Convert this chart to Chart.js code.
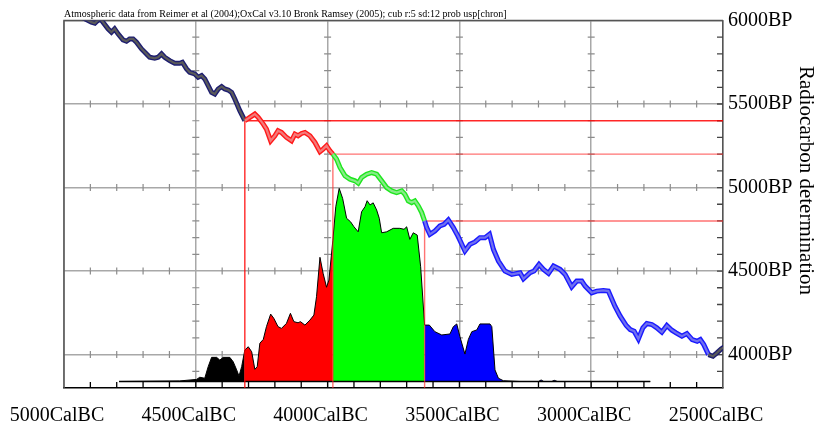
<!DOCTYPE html>
<html><head><meta charset="utf-8">
<script src="https://cdn.jsdelivr.net/npm/chart.js@4/dist/chart.umd.min.js"></script>
<style>html,body{margin:0;padding:0;background:#fff;overflow:hidden}</style>
</head><body>
<canvas id="c" width="819" height="427"></canvas>
<script>
// ---------- DATA ----------
const chartTitle = "Atmospheric data from Reimer et al (2004);OxCal v3.10 Bronk Ramsey (2005); cub r:5 sd:12 prob usp[chron]";
const yAxisTitle = "Radiocarbon determination";
const xTickSuffix = "CalBC";
const yTickSuffix = "BP";

// calibration curve (Cal BC, BP)
const curveCalBC = [4935,4928,4896,4883,4875,4862,4852,4833,4820,4808,4795,4776,4763,4751,4738,4725,4706,4687,4675,4656,4643,4630,4618,4599,4580,4561,4551,4535,4523,4504,4491,4478,4466,4453,4440,4428,4415,4402,4390,4377,4364,4352,4333,4314,
4295,4276,4263,4244,4232,4216,4200,4188,4175,4156,4137,4124,4112,4099,4086,4067,4048,4029,4017,4004,3991,3980,
3966,3953,3934,3915,3896,3884,3871,3852,3833,3814,3795,3776,3757,3738,3719,3707,3694,3681,3669,3656,3643,3632,
3624,3612,3593,3574,3558,3542,3523,3504,3479,3460,3441,3422,3403,3386,3371,3352,3327,3301,3282,3270,3257,3232,3217,3198,3181,3162,3143,3118,3099,3074,3055,3036,3023,2998,2979,2954,2935,2910,2890,2867,2852,2837,2821,2804,2789,2770,2751,2732,2713,2694,2678,2656,2637,2617,2598,2586,2573,2555,2538,2523,2507,2491];
const curveBP = [6030,6016,5990,5984,5996,6010,5990,5950,5930,5950,5920,5884,5876,5890,5890,5870,5830,5800,5780,5774,5780,5800,5780,5760,5744,5744,5750,5710,5690,5680,5660,5670,5650,5610,5570,5560,5590,5604,5590,5584,5570,5530,5460,5400,
5420,5440,5420,5380,5350,5280,5310,5340,5330,5300,5280,5320,5310,5324,5330,5310,5270,5215,5230,5250,5220,5200,
5170,5120,5070,5050,5040,5026,5060,5080,5090,5080,5040,5000,4980,4970,4980,4960,4920,4910,4920,4890,4850,4800,
4760,4720,4740,4770,4780,4806,4760,4705,4620,4660,4674,4700,4700,4720,4630,4560,4500,4480,4486,4490,4454,4490,4500,4540,4510,4486,4530,4510,4480,4406,4440,4440,4410,4370,4380,4384,4380,4290,4230,4174,4150,4140,4094,4160,4186,4180,4160,4134,4174,4146,4130,4110,4126,4090,4080,4090,4060,4000,3990,4010,4034,4050];

// probability distribution (Cal BC, relative probability)
const probCalBC = [4791,4561,4497,4485,4466,4453,4440,4421,4409,4396,4371,4358,4345,4336,4326,4314,
4301,4288,4276,4267,4257,4244,4232,4216,4204,4188,4175,4156,4141,4128,4112,4103,4086,4067,4052,4042,4029,4017,4004,3995,3980,
3969,3956,3943,3928,3913,3900,3884,3871,3858,3850,3839,3827,3814,3804,3795,3776,3751,3726,3710,3700,3688,3675,3660,3647,3632,
3614,3593,3567,3536,3523,3510,3498,3479,3466,3453,3434,3422,3384,3377,3365,3352,3333,3270,3200,3190,3180,3150,3140,3128,2776];
const probValue = [0,0.003,0.011,0.022,0.017,0.077,0.125,0.125,0.111,0.125,0.125,0.102,0.060,0.028,0.077,0.163,
0.180,0.154,0.063,0.077,0.198,0.218,0.284,0.349,0.327,0.284,0.275,0.301,0.353,0.310,0.304,0.310,0.292,0.318,0.344,0.439,0.643,0.560,0.488,0.525,0.732,
0.905,1.0,0.948,0.845,0.827,0.801,0.775,0.879,0.905,0.936,0.914,0.925,0.888,0.845,0.770,0.775,0.793,0.793,0.788,0.801,0.736,0.770,0.758,0.594,0.292,
0.292,0.258,0.241,0.246,0.284,0.298,0.232,0.142,0.218,0.258,0.267,0.298,0.298,0.284,0.060,0.017,0.004,0,0,0.008,0,0,0.006,0,0];

// range boundaries (Cal BC where the curve meets each BP level)
const rangeCalBC = [4314, 3980, 3632];
const rangeBP = [5400, 5200, 4800];
const lowerLimitBP = 4000; // blue range ends where curve drops below 4000 BP (~2555 CalBC)
const lowerLimitCalBC = 2555;
const baselineCalBC = [4791, 2776];

// ---------- STYLE ----------
const serif = "'Liberation Serif','Times New Roman',serif";
const zoneEdge = ['#1e1e70', '#ff1a1a', '#1ee61e', '#1a1aff'];
const zoneInner = ['#5a5a5a', '#f47a7a', '#86ec86', '#7070f0'];
const zoneFill = ['#000000', '#ff0000', '#00ff00', '#0000ff'];

function zoneOf(x) {
  if (x >= rangeCalBC[0]) return 0;
  if (x >= rangeCalBC[1]) return 1;
  if (x >= rangeCalBC[2]) return 2;
  if (x >= lowerLimitCalBC) return 3;
  return 0;
}

const curvePts = curveCalBC.map((x, i) => ({x, y: curveBP[i]}));
const probPts = probCalBC.map((x, i) => ({x, y: probValue[i]}));
const probSeg = [
  probPts.filter(p => p.x >= rangeCalBC[0]),
  probPts.filter(p => p.x <= rangeCalBC[0] && p.x >= rangeCalBC[1]),
  probPts.filter(p => p.x <= rangeCalBC[1] && p.x >= rangeCalBC[2]),
  probPts.filter(p => p.x <= rangeCalBC[2])
];

const datasets = [];
datasets.push({
  data: curvePts, borderWidth: 2.2, pointRadius: 0, tension: 0, order: 0,
  borderColor: zoneInner[0],
  segment: { borderColor: c => zoneInner[zoneOf(c.p1.parsed.x)] }
});
datasets.push({
  data: curvePts, borderWidth: 5, pointRadius: 0, tension: 0, order: 1,
  borderColor: zoneEdge[0],
  segment: { borderColor: c => zoneEdge[zoneOf(c.p1.parsed.x)] }
});
rangeCalBC.forEach((x, i) => {
  datasets.push({
    data: [{x, y: 3800}, {x, y: rangeBP[i]}, {x: 2500, y: rangeBP[i]}],
    borderColor: i === 0 ? 'rgba(255,0,0,0.85)' : 'rgba(255,40,40,0.65)', borderWidth: 1.4,
    pointRadius: 0, tension: 0, order: 2
  });
});
datasets.push({
  data: baselineCalBC.map(x => ({x, y: 0})), yAxisID: 'yP',
  borderColor: '#000', borderWidth: 1.6, pointRadius: 0, order: 3
});
probSeg.forEach((seg, i) => {
  datasets.push({
    data: seg, yAxisID: 'yP', borderColor: '#000', borderWidth: 1,
    backgroundColor: zoneFill[i], fill: 'origin', pointRadius: 0, tension: 0, order: 4 + i
  });
});

const decor = {
  id: 'decor',
  beforeDatasetsDraw(chart) {
    const {ctx, chartArea: a, scales: {x, y}} = chart;
    ctx.save();
    // minor marks along major grid lines
    ctx.strokeStyle = '#8c8c8c'; ctx.lineWidth = 1.2;
    ctx.beginPath();
    for (let yr = 4500; yr >= 3000; yr -= 500) {
      const px = x.getPixelForValue(yr);
      for (let bp = 3900; bp <= 5900; bp += 100) {
        if (bp % 500 === 0) continue;
        const py = y.getPixelForValue(bp);
        ctx.moveTo(px - 3.5, py); ctx.lineTo(px + 3.5, py);
      }
    }
    for (let bp = 4000; bp <= 5500; bp += 500) {
      const py = y.getPixelForValue(bp);
      for (let yr = 4900; yr >= 2600; yr -= 100) {
        if (yr % 500 === 0) continue;
        const px = x.getPixelForValue(yr);
        ctx.moveTo(px, py - 3.5); ctx.lineTo(px, py + 3.5);
      }
    }
    ctx.stroke();
    // inward ticks on bottom axis
    ctx.strokeStyle = '#000'; ctx.lineWidth = 1.3;
    ctx.beginPath();
    for (let yr = 4900; yr >= 2600; yr -= 100) {
      const px = x.getPixelForValue(yr);
      ctx.moveTo(px, a.bottom); ctx.lineTo(px, a.bottom - 6);
    }
    ctx.stroke();
    // inward ticks on right axis
    ctx.strokeStyle = '#444'; ctx.beginPath();
    for (let bp = 3900; bp <= 5900; bp += 100) {
      const py = y.getPixelForValue(bp);
      ctx.moveTo(a.right, py); ctx.lineTo(a.right - 6, py);
    }
    ctx.stroke();
    // left & top frame
    ctx.strokeStyle = '#555'; ctx.lineWidth = 1.5;
    ctx.beginPath();
    ctx.moveTo(a.left, a.bottom); ctx.lineTo(a.left, a.top); ctx.lineTo(a.right, a.top);
    ctx.stroke();
    ctx.restore();
  },
  afterDraw(chart) {
    const {ctx, chartArea: a} = chart;
    ctx.save();
    ctx.fillStyle = '#000';
    ctx.font = "10px " + serif;
    ctx.textAlign = 'left'; ctx.textBaseline = 'alphabetic';
    ctx.fillText(chartTitle, a.left, 17);
    ctx.font = "21px " + serif;
    ctx.translate(806, 180.5);
    ctx.rotate(Math.PI / 2);
    ctx.textAlign = 'center'; ctx.textBaseline = 'middle';
    ctx.fillText(yAxisTitle, 0, 0);
    ctx.restore();
  }
};

new Chart(document.getElementById('c'), {
  type: 'line',
  data: { datasets },
  plugins: [decor],
  options: {
    responsive: false, animation: false, devicePixelRatio: 1,
    layout: { padding: { top: 20.5, left: 64, right: 0, bottom: 0 } },
    plugins: { legend: { display: false }, tooltip: { enabled: false }, title: { display: false } },
    scales: {
      x: {
        type: 'linear', reverse: true, min: 2500, max: 5000, position: 'bottom',
        afterFit: s => { s.height = 39; },
        grid: { drawTicks: false, lineWidth: 1.5, color: c => (c.tick.value % 500 === 0 ? '#a8a8a8' : 'rgba(0,0,0,0)') },
        border: { color: '#000', width: 1.6 },
        ticks: {
          stepSize: 100, autoSkip: false, maxRotation: 0, padding: 16, labelOffset: -7,
          color: '#000', font: { family: serif, size: 20 },
          callback: v => (v % 500 === 0 ? v + xTickSuffix : '')
        }
      },
      y: {
        type: 'linear', min: 3800, max: 6000, position: 'right',
        afterFit: s => { s.width = 96; },
        grid: { drawTicks: false, lineWidth: 1.5, color: c => (c.tick.value % 500 === 0 ? '#a8a8a8' : 'rgba(0,0,0,0)') },
        border: { color: '#555', width: 1.5 },
        ticks: {
          stepSize: 100, autoSkip: false, padding: 5,
          color: '#000', font: { family: serif, size: 20 },
          callback: v => (v % 500 === 0 ? v + yTickSuffix : '')
        }
      },
      yP: { type: 'linear', display: false, min: -0.0336, max: 1.869 }
    }
  }
});
</script>
</body></html>
